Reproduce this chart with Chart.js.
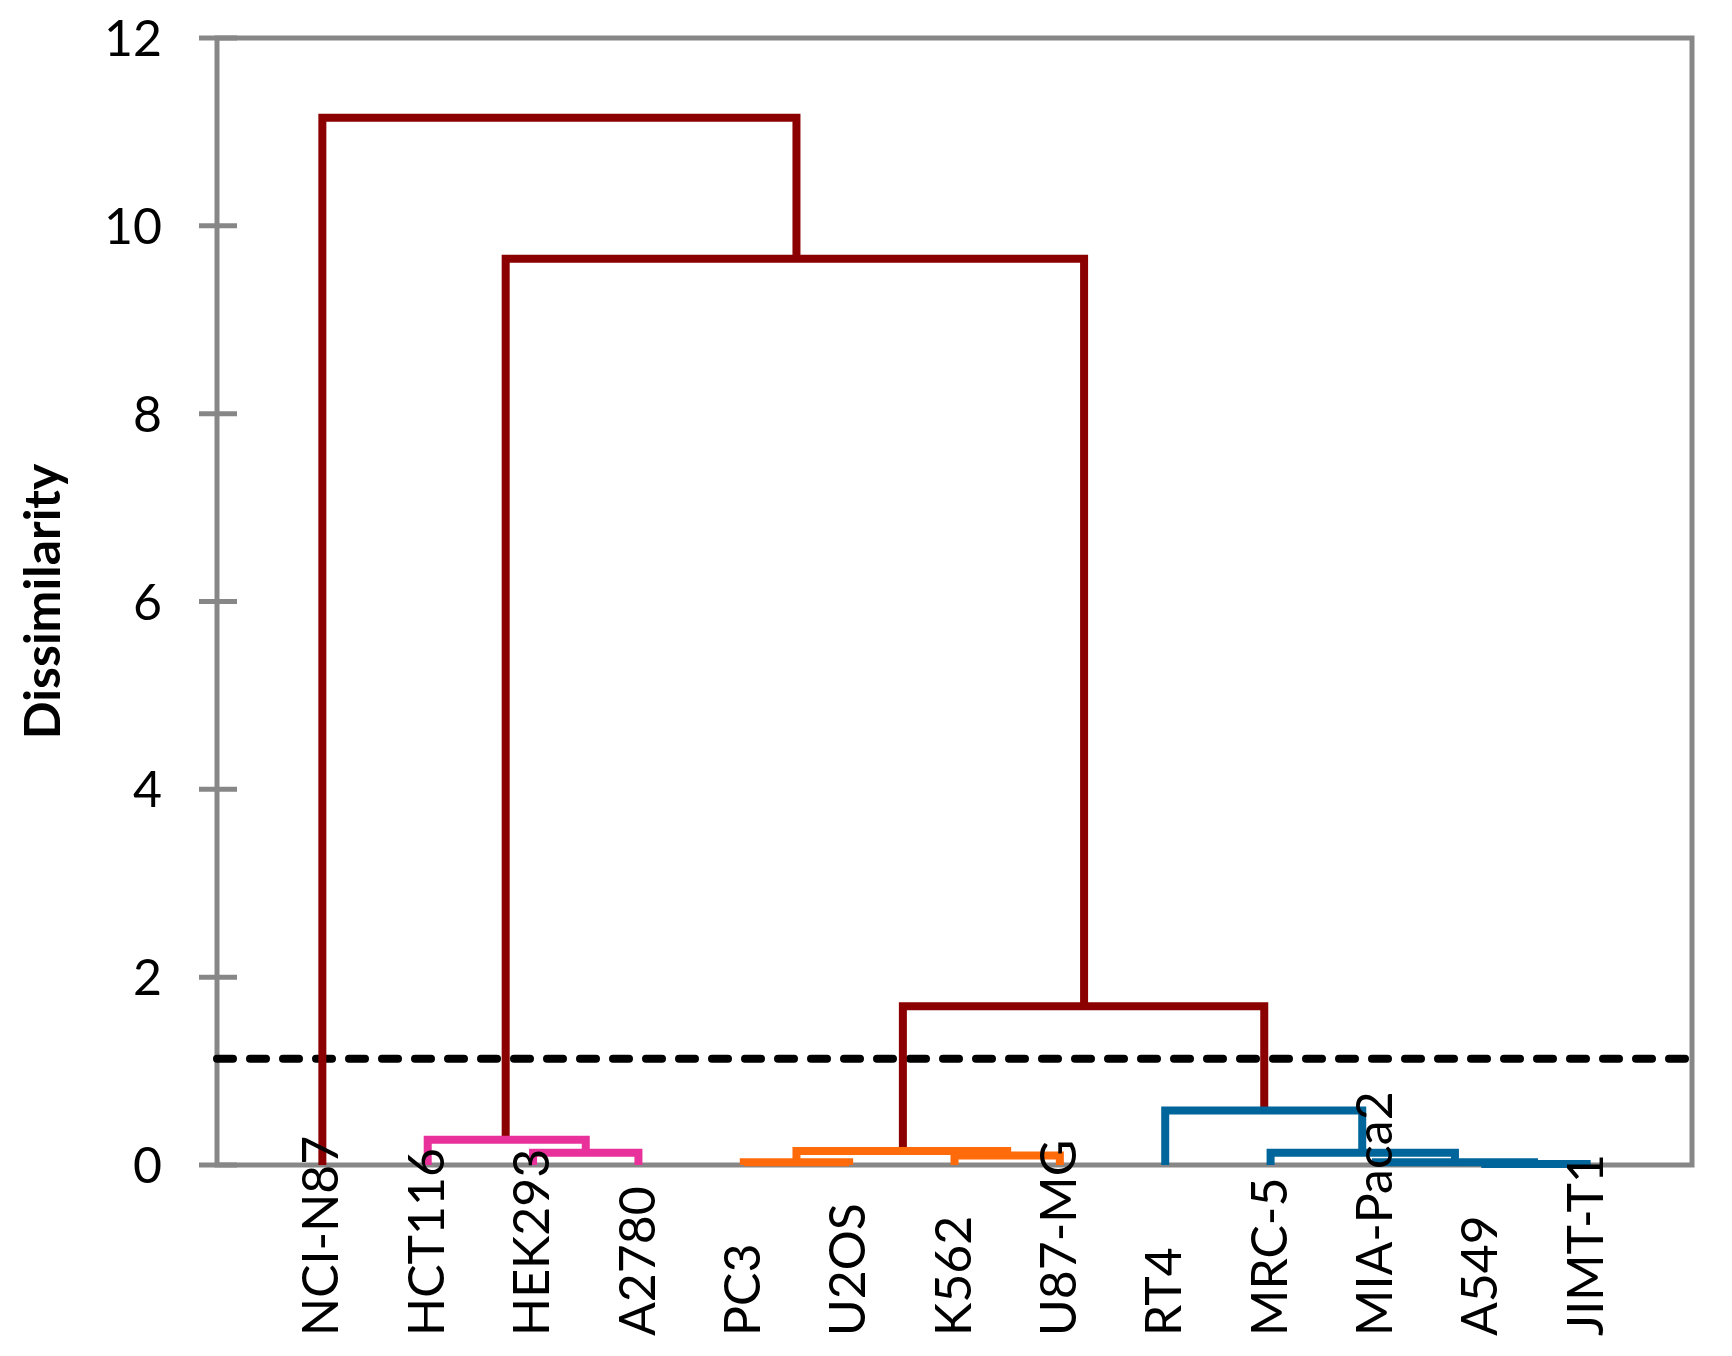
<!DOCTYPE html>
<html>
<head>
<meta charset="utf-8">
<script src="https://cdn.jsdelivr.net/npm/chart.js@4.4.0/dist/chart.umd.min.js"></script>
<style>
  body { margin: 0; background: #fff; }
  #wrap { width: 1732px; height: 1356px; }
</style>
</head>
<body>
<div id="wrap"><canvas id="dendro"></canvas></div>
<script>
// leaves, left to right
const leafLabels = ["NCI-N87", "HCT116", "HEK293", "A2780", "PC3", "U2OS", "K562",
  "U87-MG", "RT4", "MRC-5", "MIA-Paca2", "A549", "JIMT-T1"];
const yTicks = [0, 2, 4, 6, 8, 10, 12];
const cutHeight = 1.13;

// links: [xLeft, yLeftBottom, xRight, yRightBottom, height]
const redLinks = [
  [0, 0, 4.5, 9.65, 11.15],
  [1.74, 0.27, 7.23, 1.69, 9.65],
  [5.51, 0.15, 8.94, 0.58, 1.69]
];
const pinkLinks = [
  [1, 0, 2.5, 0.13, 0.27],
  [2, 0, 3, 0, 0.13]
];
const orangeLinks = [
  [4, 0, 5, 0, 0.03],
  [4.5, 0.03, 6.5, 0.1, 0.15],
  [6, 0, 7, 0, 0.1]
];
const blueLinks = [
  [8, 0, 9.87, 0.13, 0.58],
  [9, 0, 10.75, 0.03, 0.13],
  [10, 0, 11.5, 0.01, 0.03],
  [11, 0, 12, 0, 0.01]
];

const FONT = "Lato, 'Open Sans', sans-serif";
const GRAY = "#878787";

function linkDatasets(links, color) {
  return links.map(l => ({
    data: [{ x: l[0], y: l[1] }, { x: l[0], y: l[4] }, { x: l[2], y: l[4] }, { x: l[2], y: l[3] }],
    borderColor: color,
    borderWidth: 8,
    pointRadius: 0,
    fill: false,
    tension: 0,
    borderJoinStyle: "miter",
    clip: false
  }));
}

const datasets = [
  ...linkDatasets(pinkLinks, "#E8319B"),
  ...linkDatasets(orangeLinks, "#FF6A0A"),
  ...linkDatasets(blueLinks, "#00659A"),
  ...linkDatasets(redLinks, "#8B0000"),
  {
    data: [{ x: -1, y: cutHeight }, { x: 13, y: cutHeight }],
    borderColor: "#000",
    borderWidth: 8,
    borderDash: [16, 17],
    borderCapStyle: "round",
    pointRadius: 0,
    clip: false
  }
];

// box, ticks, tick labels, leaf labels and y title
const framePlugin = {
  id: "frame",
  beforeDatasetsDraw(chart) {
    const { ctx, chartArea: a, scales } = chart;
    ctx.save();
    ctx.strokeStyle = GRAY;
    ctx.lineWidth = 5;
    ctx.strokeRect(a.left, a.top, a.right - a.left, a.bottom - a.top);
    ctx.fillStyle = "#000";
    ctx.font = "50px " + FONT;
    ctx.textAlign = "right";
    ctx.textBaseline = "middle";
    yTicks.forEach(v => {
      const py = scales.y.getPixelForValue(v);
      ctx.beginPath();
      ctx.moveTo(a.left - 18, py);
      ctx.lineTo(a.left + 20, py);
      ctx.stroke();
      ctx.fillText(String(v), a.left - 55, py + 2);
    });
    ctx.restore();
  },
  afterDatasetsDraw(chart) {
    const { ctx, chartArea: a, scales } = chart;
    ctx.save();
    ctx.fillStyle = "#000";
    ctx.font = "50px " + FONT;
    ctx.textAlign = "left";
    ctx.textBaseline = "middle";
    leafLabels.forEach((lab, i) => {
      const px = scales.x.getPixelForValue(i);
      ctx.save();
      ctx.translate(px, 1336);
      ctx.rotate(-Math.PI / 2);
      ctx.fillText(lab, 0, 0);
      ctx.restore();
    });
    ctx.font = "bold 50px " + FONT;
    ctx.textAlign = "center";
    ctx.translate(44, (a.top + a.bottom) / 2);
    ctx.rotate(-Math.PI / 2);
    ctx.fillText("Dissimilarity", 0, 0);
    ctx.restore();
  }
};

new Chart(document.getElementById("dendro").getContext("2d"), {
  type: "line",
  data: { datasets },
  options: {
    responsive: true,
    maintainAspectRatio: false,
    animation: false,
    layout: { padding: { left: 217, top: 38, right: 40, bottom: 191 } },
    plugins: { legend: { display: false }, tooltip: { enabled: false } },
    scales: {
      x: { type: "linear", min: -1, max: 13, display: false },
      y: { type: "linear", min: 0, max: 12, display: false }
    }
  },
  plugins: [framePlugin]
});
</script>
</body>
</html>
